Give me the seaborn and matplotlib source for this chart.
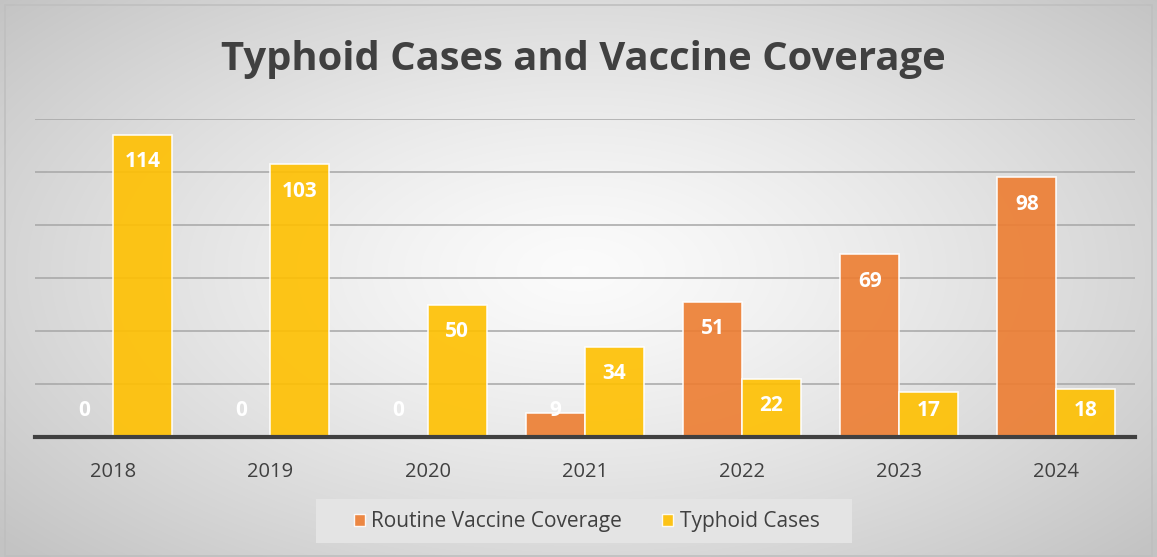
import matplotlib
matplotlib.use("Agg")
import matplotlib.pyplot as plt
import seaborn as sns
import pandas as pd
import numpy as np
from matplotlib.patches import Rectangle

years = ["2018", "2019", "2020", "2021", "2022", "2023", "2024"]
vaccine_coverage = [0, 0, 0, 9, 51, 69, 98]
typhoid_cases = [114, 103, 50, 34, 22, 17, 18]
series_names = ["Routine Vaccine Coverage", "Typhoid Cases"]
colors = ["#ED7D31", "#FFC000"]

df = pd.DataFrame({
    "Year": years * 2,
    "Series": [series_names[0]] * len(years) + [series_names[1]] * len(years),
    "Value": vaccine_coverage + typhoid_cases,
})

sns.set_theme(style="white")
plt.rcParams["font.family"] = ["Open Sans", "DejaVu Sans"]

fig = plt.figure(figsize=(11.57, 5.57), dpi=100)

# radial gradient background
bg = fig.add_axes([0, 0, 1, 1], zorder=-10)
h, w = 557, 1157
yy, xx = np.mgrid[0:h, 0:w]
r = np.sqrt(((xx - 580) / 620.0) ** 2 + ((yy - 270) / 330.0) ** 2)
r = np.clip(r / 1.25, 0, 1)
shade = 0.985 - 0.22 * r ** 1.3
img = np.dstack([shade, shade, shade])
bg.imshow(img, extent=[0, 1, 0, 1], aspect="auto", origin="upper")
bg.add_patch(Rectangle((0.004, 0.002), 0.992, 0.989, transform=bg.transAxes,
                       fill=False, edgecolor="#bfbfbf", linewidth=1.2))
bg.set_xlim(0, 1)
bg.set_ylim(0, 1)
bg.axis("off")

ax = fig.add_axes([0.030, 0.2154, 0.951, 0.5709])
ax.patch.set_alpha(0)
sns.barplot(data=df, x="Year", y="Value", hue="Series", palette=colors,
            width=0.75, ax=ax, saturation=1, legend=False, zorder=3)

for p in ax.patches:
    p.set_alpha(0.9)
    p.set_edgecolor((1, 1, 1, 0.6))
    p.set_linewidth(1.2)

ax.set_ylim(0, 120)
ax.set_xlim(-0.5, 6.5)
ax.set_yticks(np.arange(20, 121, 20))
ax.yaxis.grid(True, color="#a6a6a6", linewidth=1.1, zorder=0)
ax.set_axisbelow(True)
ax.set_yticklabels([])
ax.tick_params(axis="y", length=0)
ax.tick_params(axis="x", length=0, labelsize=14.5, labelcolor="#404040", pad=18)
ax.set_xlabel("")
ax.set_ylabel("")
for s in ["top", "right", "left"]:
    ax.spines[s].set_visible(False)
ax.spines["bottom"].set_color("#404040")
ax.spines["bottom"].set_linewidth(3)
ax.spines["bottom"].set_zorder(5)

# data labels
for container, vals in zip(ax.containers, [vaccine_coverage, typhoid_cases]):
    for p, v in zip(container.patches, vals):
        xc = p.get_x() + p.get_width() / 2
        yl = max(v - 10.2, 10)
        ax.text(xc, yl, str(v), ha="center", va="center", color="white",
                fontsize=15, fontweight="bold", zorder=6)

fig.text(0.504, 0.893, "Typhoid Cases and Vaccine Coverage", ha="center",
         va="center", fontsize=28.8, fontweight="bold", color="#404040")

# legend
bg.add_patch(Rectangle((316 / w, 1 - 543 / h), (852 - 316) / w, (543 - 499) / h,
                       transform=bg.transAxes, facecolor="#e4e4e4",
                       edgecolor="none", zorder=2))
handles = [Rectangle((0, 0), 1, 1, facecolor=c, edgecolor=(1, 1, 1, 0.6), alpha=0.9)
           for c in colors]
leg = fig.legend(handles, series_names, loc="center", bbox_to_anchor=(0.507, 0.063),
                 ncol=2, frameon=False, fontsize=15, handlelength=0.55,
                 handleheight=0.55, handletextpad=0.3, columnspacing=1.9)
for t in leg.get_texts():
    t.set_color("#404040")

fig.savefig("out.png", dpi=100)
